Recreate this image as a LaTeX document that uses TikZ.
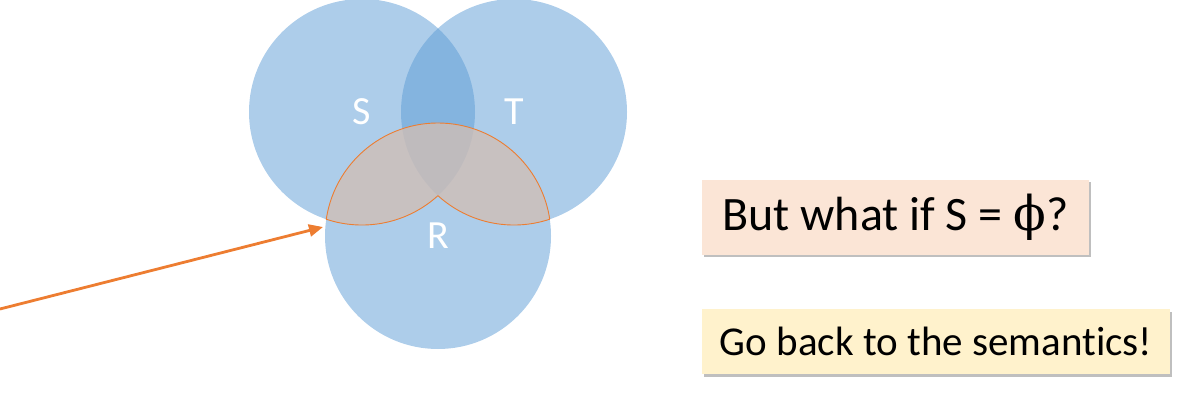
\documentclass[tikz,border=0pt]{standalone}
\usepackage{fontspec}
\setmainfont[Ligatures=NoCommon]{Carlito}
\newfontfamily\phifont{DejaVu Serif}
\usetikzlibrary{positioning,calc,arrows.meta,shadows}

\definecolor{setblue}{HTML}{5B9BD5}
\definecolor{accorange}{HTML}{ED7D31}
\definecolor{peach}{HTML}{F6CAAB}
\definecolor{askfill}{HTML}{FBE5D6}
\definecolor{hintfill}{HTML}{FFF2CC}

\tikzset{
  setcircle/.style={circle, minimum size=226pt, inner sep=0pt, fill=setblue,
    fill opacity=0.5, text opacity=1, text=white,
    font=\fontsize{40}{44}\selectfont},
  notebox/.style={rectangle, inner sep=0pt, text=black,
    drop shadow={shadow xshift=2pt, shadow yshift=-2.5pt, fill=black, opacity=0.25}},
}

\begin{document}
\begin{tikzpicture}[x=1pt,y=1pt]
  \useasboundingbox (0,0) rectangle (1186,402);

  \node[setcircle] (S) at (362,290) {\raisebox{-3pt}{S}}; %
  \node[setcircle] (T) at (514,290) {\raisebox{-3pt}{T}}; %
  \node[setcircle] (R) at (438,166) {\raisebox{-2pt}{R}}; %

  % corners of the highlighted region
  \coordinate (sr) at ($(R.center)+(171.45:113)$); %
  \coordinate (tr) at ($(R.center)+(8.55:113)$); %
  \coordinate (st) at ($(S.center)+(-47.73:113)$); %

  \fill[peach, fill opacity=0.6] (sr) arc[start angle=171.45, end angle=8.55, radius=113]
    arc[start angle=-71.53, end angle=-132.27, radius=113]
    arc[start angle=-47.73, end angle=-108.47, radius=113] -- cycle;
  \draw[accorange, line width=0.9pt, line join=round] (sr) arc[start angle=171.45, end angle=8.55, radius=113]
    arc[start angle=-71.53, end angle=-132.27, radius=113]
    arc[start angle=-47.73, end angle=-108.47, radius=113] -- cycle;

  \coordinate (from) at (0,93); %
  \coordinate (to) at (323,175); %
  \draw[accorange, line width=2.8pt, -{Triangle[length=14pt,width=12pt]}] (from) -- (to);

  \node[notebox, fill=askfill, minimum width=387pt, minimum height=75pt,
    font=\fontsize{48}{52}\selectfont] (ask) at (895.5,184.5) {But what if S = {\phifont ϕ}?}; %
  \node[notebox, fill=hintfill, minimum width=468pt, minimum height=65pt,
    font=\fontsize{41}{45}\selectfont, below=54pt of ask.south west, anchor=north west] (hint)
    {Go back to the semantics!}; %

\end{tikzpicture}
\end{document}
